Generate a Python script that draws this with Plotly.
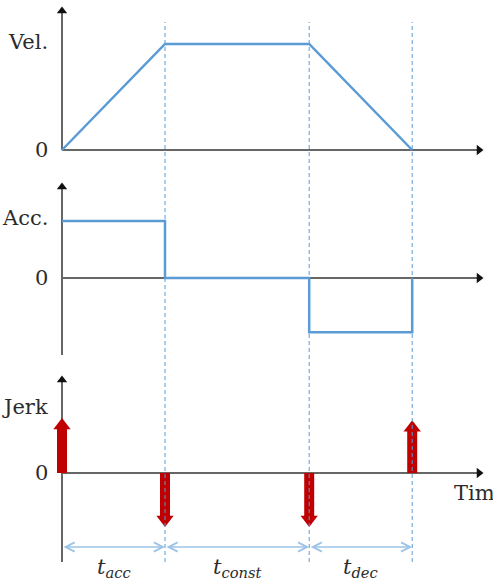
import plotly.graph_objects as go

# ---- data ----
phase_names = ["acc", "const", "dec"]
phase_times = [0.0, 1.0, 2.4, 3.4]          # t=0, end of acc, end of const, end of dec
vel_values = [0.0, 1.0, 1.0, 0.0]           # velocity at phase_times
acc_levels = [1.0, 0.0, -0.95]              # acceleration in each phase
jerk_values = [1.0, -0.98, -0.98, 0.96]     # jerk impulses at phase_times

# ---- layout helpers (pixel geometry of the 493x585 canvas) ----
W, H = 493, 585
X0_PX, PX_PER_T = 62, 103


def yrange(zero_px, px_per_unit):
    return [-(H - zero_px) / px_per_unit, zero_px / px_per_unit]


xr = [-X0_PX / PX_PER_T, (W - X0_PX) / PX_PER_T]
panels = {
    "y": dict(zero=150, ppu=106),
    "y2": dict(zero=278, ppu=57),
    "y3": dict(zero=473, ppu=55),
}

BLUE = "#5B9BD5"
LIGHTBLUE = "#9DC3E6"
RED = "#C00000"
AXIS = "#666666"
TEXT = "#2b2b2b"
FONT = "DejaVu Serif"

fig = go.Figure()

# axes (drawn first so curves lie on top)
t_end = (483 - X0_PX) / PX_PER_T
axis_specs = [  # (yaxis, bottom, top)
    ("y", 0.0, (150 - 7) / 106),
    ("y2", -(355 - 278) / 57, (278 - 183) / 57),
    ("y3", -(562 - 473) / 55, (473 - 376) / 55),
]
for ya, bot, top in axis_specs:
    ppu = panels[ya]["ppu"]
    fig.add_trace(go.Scatter(x=[0, 0, None, 0, t_end - 6 / PX_PER_T],
                             y=[bot, top - 6 / ppu, None, 0, 0],
                             mode="lines", line=dict(color=AXIS, width=2),
                             yaxis=ya, hoverinfo="skip", showlegend=False))
    fig.add_trace(go.Scatter(x=[0, t_end - 4 / PX_PER_T], y=[top - 4 / ppu, 0],
                             mode="markers",
                             marker=dict(symbol=["triangle-up", "triangle-right"],
                                         size=9, color="#111111"),
                             yaxis=ya, hoverinfo="skip", showlegend=False))

# velocity
fig.add_trace(go.Scatter(x=phase_times, y=vel_values, mode="lines",
                         line=dict(color=BLUE, width=2.5), yaxis="y",
                         showlegend=False))

# acceleration (step)
ax_, ay_ = [], []
for i, a in enumerate(acc_levels):
    ax_ += [phase_times[i], phase_times[i + 1]]
    ay_ += [a, a]
ax_.append(phase_times[-1])
ay_.append(0.0)
fig.add_trace(go.Scatter(x=ax_, y=ay_, mode="lines",
                         line=dict(color=BLUE, width=2.5), yaxis="y2",
                         showlegend=False))

# jerk impulses (arrows)
R_PX = 7.5
jx, jy, mx, my, ms = [], [], [], [], []
for t, j in zip(phase_times, jerk_values):
    sgn = 1 if j > 0 else -1
    tip_px = abs(j) * 55
    center = sgn * (tip_px - R_PX) / 55
    jx += [t, t, None]
    jy += [0, center, None]
    mx.append(t)
    my.append(center)
    ms.append("triangle-up" if j > 0 else "triangle-down")
fig.add_trace(go.Scatter(x=jx, y=jy, mode="lines", line=dict(color=RED, width=10),
                         yaxis="y3", showlegend=False, hoverinfo="skip"))
fig.add_trace(go.Scatter(x=mx, y=my, mode="markers",
                         marker=dict(symbol=ms, size=15, color=RED, line=dict(width=0)),
                         yaxis="y3", showlegend=False, hoverinfo="skip"))

# dashed guide lines
for t in phase_times[1:]:
    fig.add_shape(type="line", x0=t, x1=t, y0=1 - 562 / H, y1=1 - 22 / H,
                  xref="x", yref="paper", layer="above",
                  line=dict(color=BLUE, width=1, dash="4px,3px"))

# dimension arrows + labels
dim_y = -(547 - 473) / 55
lab_y = -(568 - 473) / 55
for i, name in enumerate(phase_names):
    a, b = phase_times[i], phase_times[i + 1]
    fig.add_annotation(x=b, y=dim_y, ax=a, ay=dim_y, xref="x", yref="y3",
                       axref="x", ayref="y3", text="", showarrow=True,
                       arrowhead=5, startarrowhead=5, arrowside="end+start",
                       arrowwidth=1.5, arrowsize=1.2, startarrowsize=1.2,
                       arrowcolor=LIGHTBLUE, standoff=0, startstandoff=0)
    fig.add_annotation(x=(a + b) / 2, y=lab_y, xref="x", yref="y3",
                       text=f"<i>t</i><sub><i>{name}</i></sub>", showarrow=False,
                       font=dict(family=FONT, size=21, color=TEXT))

# axis labels
lbl_x = 50 / W
for ya, name, top_val in [("y", "Vel.", 1.02), ("y2", "Acc.", 1.05), ("y3", "Jerk", 1.2)]:
    fig.add_annotation(x=lbl_x, y=top_val, xref="paper", yref=ya, text=name,
                       xanchor="right", yanchor="middle", showarrow=False,
                       font=dict(family=FONT, size=21, color=TEXT))
    fig.add_annotation(x=lbl_x, y=0, xref="paper", yref=ya, text="0",
                       xanchor="right", yanchor="middle", showarrow=False,
                       font=dict(family=FONT, size=21, color=TEXT))
fig.add_annotation(x=452 / W, y=-(493 - 473) / 55, xref="paper", yref="y3",
                   text="Time", xanchor="left", yanchor="middle", showarrow=False,
                   font=dict(family=FONT, size=21, color=TEXT))

hidden = dict(visible=False, fixedrange=True)
fig.update_layout(
    width=W, height=H, margin=dict(l=0, r=0, t=0, b=0),
    paper_bgcolor="white", plot_bgcolor="white", showlegend=False,
    xaxis=dict(range=xr, domain=[0, 1], **hidden),
    yaxis=dict(range=yrange(150, 106), domain=[0, 1], **hidden),
    yaxis2=dict(range=yrange(278, 57), domain=[0, 1], overlaying="y", **hidden),
    yaxis3=dict(range=yrange(473, 55), domain=[0, 1], overlaying="y", **hidden),
)

fig.write_html("out.html")
